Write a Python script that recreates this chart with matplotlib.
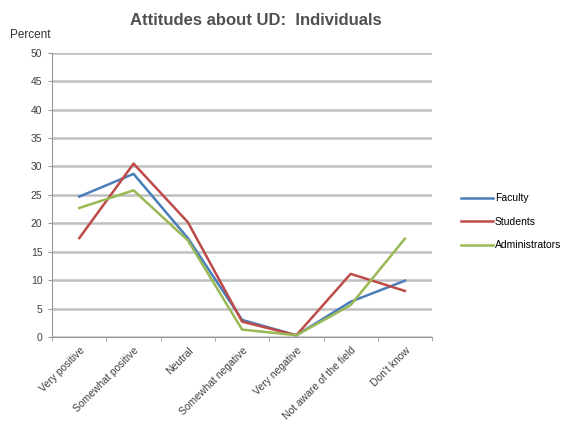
import numpy as np
import matplotlib.pyplot as plt

categories = ['Very positive', 'Somewhat positive', 'Neutral', 'Somewhat negative',
              'Very negative', 'Not aware of the field', "Don't know"]
faculty = [24.7, 28.7, 17.4, 3.0, 0.3, 6.2, 9.9]
students = [17.4, 30.5, 20.2, 2.7, 0.3, 11.1, 8.1]
administrators = [22.7, 25.8, 17.0, 1.3, 0.3, 5.6, 17.3]
yticks = list(range(0, 55, 5))

plt.rcParams['font.family'] = ['Liberation Sans', 'DejaVu Sans']

fig = plt.figure(figsize=(5.67, 4.26), dpi=100)
ax = fig.add_axes([0.092, 0.209, 0.670, 0.667])

x = np.arange(len(categories)) + 0.5
ax.plot(x, faculty, color='#4a7ebb', lw=1.8, label='Faculty')
ax.plot(x, students, color='#be4b48', lw=1.8, label='Students')
ax.plot(x, administrators, color='#98b954', lw=1.8, label='Administrators')

ax.set_xlim(0, len(categories))
ax.set_ylim(0, 50)
ax.set_yticks(yticks)
ax.set_yticklabels([str(v) for v in yticks], fontsize=7.5, color='#404040')
ax.yaxis.grid(True, color='#c0c0c0', lw=1.8)
ax.set_axisbelow(True)

ax.set_xticks(x)
ax.set_xticklabels(categories, rotation=45, ha='right', rotation_mode='anchor',
                   fontsize=7.5, color='#404040')
ax.tick_params(axis='x', which='major', length=0, pad=6)
ax.set_xticks(np.arange(len(categories) + 1), minor=True)
ax.tick_params(axis='x', which='minor', length=3, color='#999999')
ax.tick_params(axis='y', length=3, color='#999999', pad=4)

for s in ['top', 'right']:
    ax.spines[s].set_visible(False)
ax.spines['left'].set_color('#999999')
ax.spines['bottom'].set_color('#999999')

fig.text(0.452, 0.953, 'Attitudes about UD:  Individuals', ha='center', va='center',
         fontsize=12, fontweight='bold', color='#505050')
fig.text(0.018, 0.918, 'Percent', ha='left', va='center', fontsize=8.5, color='#333333')

ax.legend(loc='center left', bbox_to_anchor=(1.076, 0.405), frameon=False, fontsize=7.5,
          handlelength=3.1, handletextpad=0.15, labelspacing=1.3,
          borderpad=0, borderaxespad=0)

fig.savefig('out.png', dpi=100)
